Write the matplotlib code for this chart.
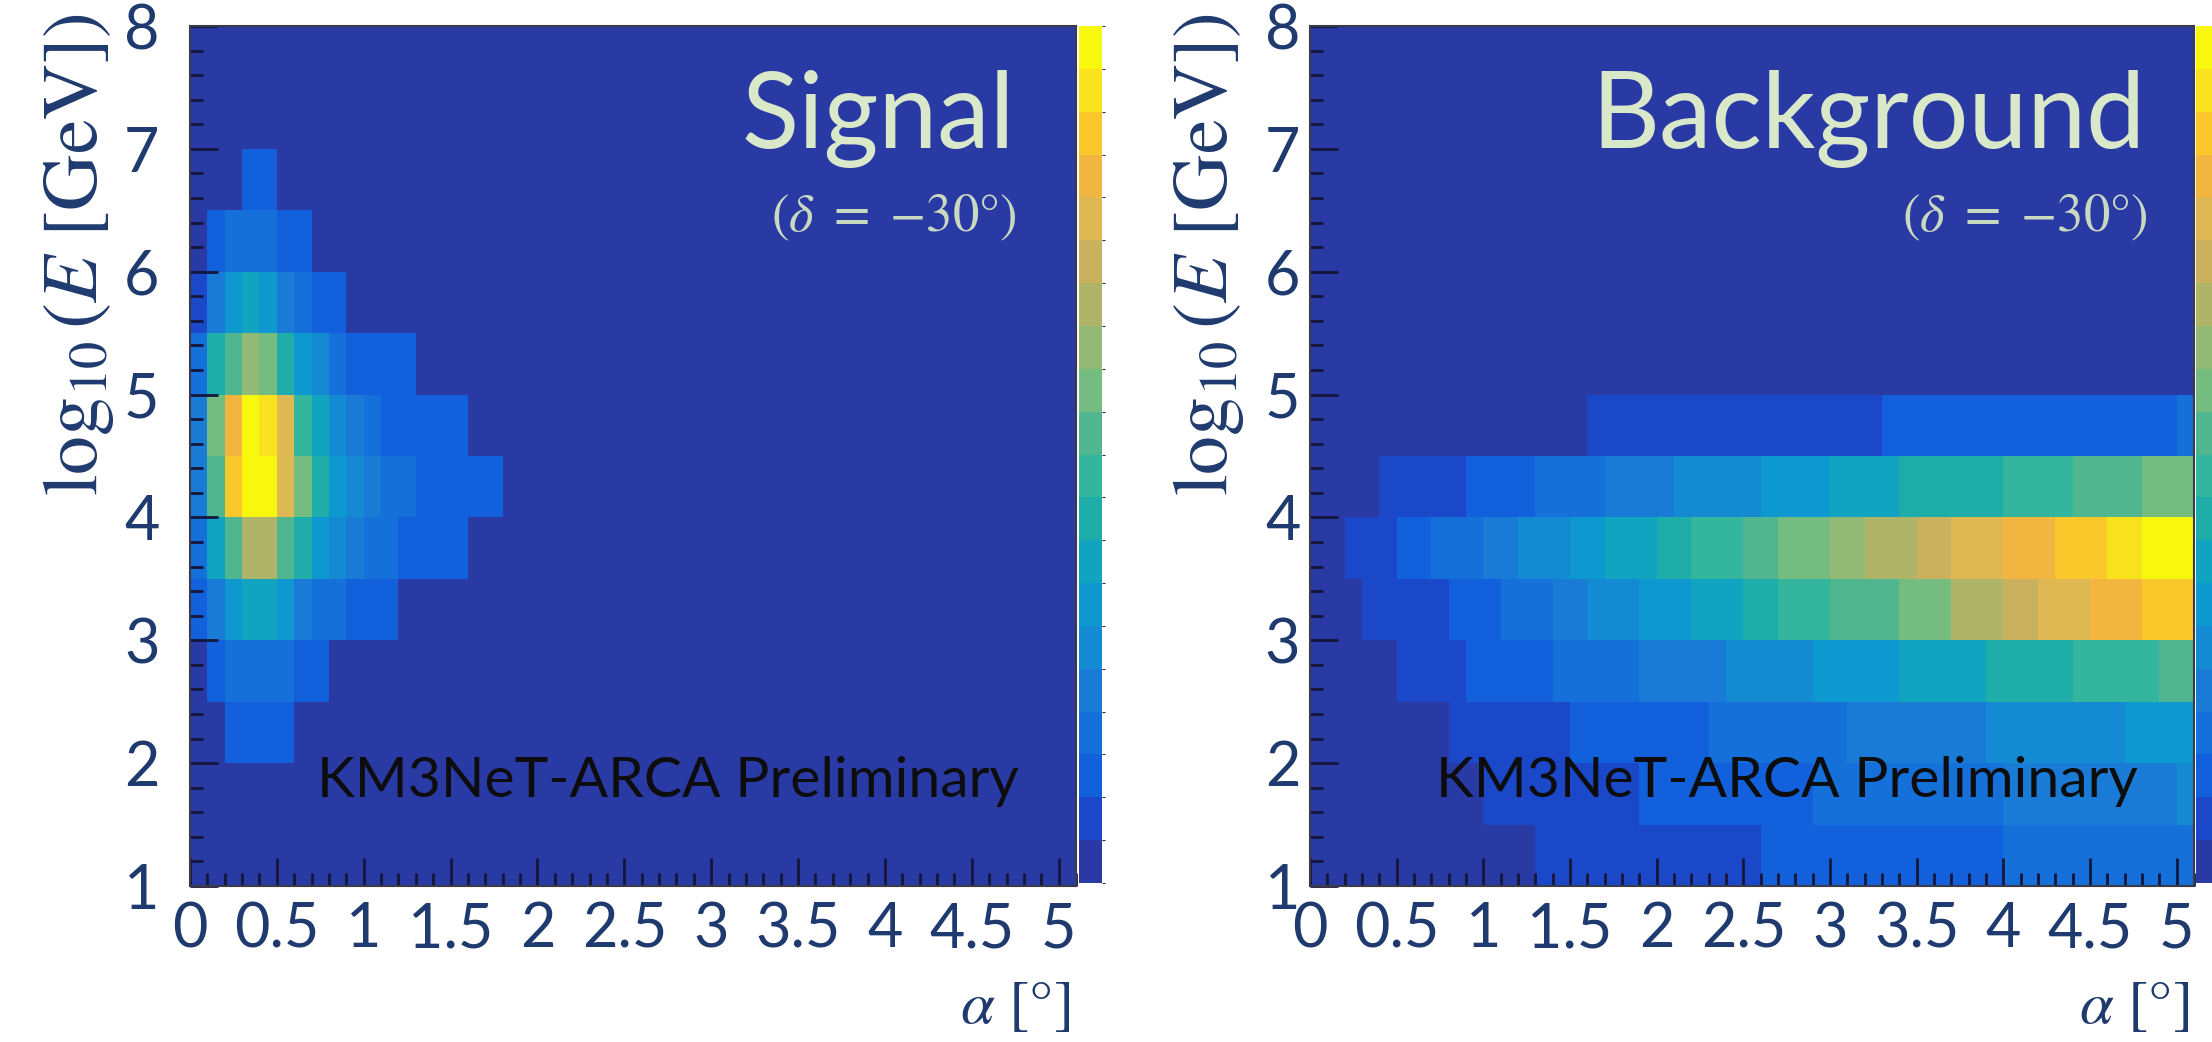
import numpy as np
import matplotlib
matplotlib.use("Agg")
import matplotlib.pyplot as plt
from matplotlib.colors import ListedColormap, BoundaryNorm
from matplotlib.ticker import MultipleLocator

plt.rcParams["font.family"] = ["Lato", "DejaVu Sans"]
plt.rcParams["mathtext.fontset"] = "stix"

W, H = 2212, 1042
NAVY = "#1f3a6e"

# 20-level ROOT palette (level 0 = empty bins / frame colour)
PALETTE = ["#2a3aa5", "#1a48c8", "#1360dc", "#1670da", "#1a7bd6",
           "#148ad2", "#0d98cf", "#10a4c0", "#1fadaa", "#33b59e",
           "#50b68f", "#74bc80", "#92ba74", "#b0b468", "#c9b15e",
           "#deb852", "#f2b640", "#fbc82c", "#f9e11e", "#f8f80e"]

X_EDGES = np.round(np.arange(0, 5.11, 0.1), 1)      # alpha bins [deg]
Y_EDGES = np.arange(1.0, 8.01, 0.5)                  # log10(E) bins

# signal: per log10(E) row (bottom up) -> (first alpha bin, colour level per 0.1 bin)
SIG_ROWS = [
    (0, []),                                                    # 1.0-1.5
    (0, []),                                                    # 1.5-2.0
    (2, [2, 2, 2, 2]),                                          # 2.0-2.5
    (1, [2, 3, 3, 3, 3, 2, 2]),                                 # 2.5-3.0
    (0, [2, 4, 6, 7, 7, 6, 4, 3, 3, 2, 2, 2]),                  # 3.0-3.5
    (0, [3, 7, 10, 13, 13, 10, 8, 6, 5, 4, 3, 3, 2, 2, 2, 2]),  # 3.5-4.0
    (0, [4, 10, 17, 19, 19, 15, 11, 8, 6, 5, 4, 3, 3, 2, 2, 2, 2, 2]),  # 4.0-4.5
    (0, [4, 11, 16, 19, 18, 15, 9, 7, 5, 4, 3, 2, 2, 2, 2, 2]),  # 4.5-5.0
    (0, [3, 8, 10, 12, 11, 8, 6, 5, 3, 2, 2, 2, 2]),            # 5.0-5.5
    (0, [1, 4, 6, 7, 6, 4, 3, 2, 2]),                           # 5.5-6.0
    (1, [2, 3, 3, 3, 2, 2]),                                    # 6.0-6.5
    (3, [2, 2]),                                                # 6.5-7.0
    (0, []),                                                    # 7.0-7.5
    (0, []),                                                    # 7.5-8.0
]

# background: per row -> (run edges in alpha, colour level of each run)
BKG_ROWS = [
    ([0, 1.3, 2.6, 4.0, 5.1], [0, 1, 2, 3]),
    ([0, 1.0, 1.9, 2.9, 4.0, 5.0, 5.1], [0, 1, 2, 3, 4, 5]),
    ([0, 0.8, 1.5, 2.3, 3.1, 3.9, 4.7, 5.1], [0, 1, 2, 3, 4, 5, 6]),
    ([0, 0.5, 0.9, 1.4, 1.9, 2.4, 2.9, 3.4, 3.9, 4.4, 4.9, 5.1],
     [0, 1, 2, 3, 4, 5, 6, 7, 8, 9, 10]),
    ([0, 0.3, 0.8, 1.1, 1.4, 1.6, 1.9, 2.2, 2.5, 2.7, 3.0, 3.4, 3.7, 4.0, 4.2, 4.5, 4.8, 5.1],
     [0, 1, 2, 3, 4, 5, 6, 7, 8, 9, 10, 11, 13, 14, 15, 16, 17]),
    ([0, 0.2, 0.5, 0.7, 1.0, 1.2, 1.5, 1.7, 2.0, 2.2, 2.5, 2.7, 3.0, 3.2, 3.5, 3.7, 4.0, 4.3, 4.6, 4.8, 5.1],
     [0, 1, 2, 3, 4, 5, 6, 7, 8, 9, 10, 11, 12, 13, 14, 15, 16, 17, 18, 19]),
    ([0, 0.4, 0.9, 1.3, 1.7, 2.1, 2.6, 3.0, 3.4, 4.0, 4.4, 4.8, 5.1],
     [0, 1, 2, 3, 4, 5, 6, 7, 8, 9, 10, 11]),
    ([0, 1.6, 3.3, 5.0, 5.1], [0, 1, 2, 3]),
    ([0, 5.1], [0]),
    ([0, 5.1], [0]),
    ([0, 5.1], [0]),
    ([0, 5.1], [0]),
    ([0, 5.1], [0]),
    ([0, 5.1], [0]),
]

X_TICKS = [0, 0.5, 1, 1.5, 2, 2.5, 3, 3.5, 4, 4.5, 5]
X_TICKLABELS = ["0", "0.5", "1", "1.5", "2", "2.5", "3", "3.5", "4", "4.5", "5"]
Y_TICKS = [1, 2, 3, 4, 5, 6, 7, 8]


def sig_grid(rows):
    g = np.zeros((len(rows), len(X_EDGES) - 1))
    for i, (start, lev) in enumerate(rows):
        g[i, start:start + len(lev)] = lev
    return g


def bkg_grid(rows):
    cen = 0.5 * (X_EDGES[:-1] + X_EDGES[1:])
    g = np.zeros((len(rows), len(cen)))
    for i, (edges, lev) in enumerate(rows):
        idx = np.clip(np.searchsorted(edges, cen) - 1, 0, len(lev) - 1)
        g[i] = np.asarray(lev)[idx]
    return g


cmap = ListedColormap(PALETTE)
norm = BoundaryNorm(np.arange(-0.5, 20.5, 1), cmap.N)

fig = plt.figure(figsize=(W / 100, H / 100), dpi=100)


def fx(px):
    return px / W


def fy(py):
    return 1 - py / H


def panel(x0, x1, cbx, grid, title, ttl_right, km_right, ylab_x, alab_right, ypad):
    ax = fig.add_axes([fx(x0), fy(886), fx(x1 - x0), fy(26) - fy(886)])
    ax.set_facecolor(PALETTE[0])
    m = ax.pcolormesh(X_EDGES, Y_EDGES, grid, cmap=cmap, norm=norm,
                      edgecolors="none", linewidth=0, antialiased=False)
    ax.set_xlim(0, 5.1); ax.set_ylim(1, 8)
    ax.set_xticks(X_TICKS); ax.set_xticklabels(X_TICKLABELS)
    ax.set_yticks(Y_TICKS)
    ax.xaxis.set_minor_locator(MultipleLocator(0.1))
    ax.yaxis.set_minor_locator(MultipleLocator(0.2))
    ax.tick_params(which="both", direction="in", color="#14163a", width=2,
                   top=False, right=False)
    ax.tick_params(which="major", length=20, labelsize=44, labelcolor=NAVY)
    ax.tick_params(which="minor", length=9.5)
    ax.tick_params(axis="x", which="major", pad=11)
    ax.tick_params(axis="y", which="major", pad=ypad)
    for s in ax.spines.values():
        s.set_color("#3a3a4a"); s.set_linewidth(1.5)

    cax = fig.add_axes([fx(cbx), fy(883), fx(23), fy(26) - fy(883)])
    cb = fig.colorbar(m, cax=cax, ticks=[])
    cb.outline.set_linewidth(0)

    fig.text(fx(ttl_right), fy(148), title, ha="right", va="baseline",
             fontsize=76, color="#d9e8c9")
    fig.text(fx(ttl_right + 2), fy(218), r"$(\delta\ =\ {-}30°)$", ha="right",
             va="center", fontsize=38, color="#c9d9c0")
    fig.text(fx(km_right), fy(797), "KM3NeT-ARCA Preliminary", ha="right",
             va="baseline", fontsize=41, color="#0d0d0d")
    fig.text(fx(ylab_x), fy(13), r"$\log_{10}(E\ [\mathrm{GeV}])$", rotation=90,
             ha="center", va="top", fontsize=56, color=NAVY)
    fig.text(fx(alab_right), fy(1005), r"$\alpha\ [°]$", ha="right",
             va="center", fontsize=44, color=NAVY)
    return ax


panel(190, 1076, 1079, sig_grid(SIG_ROWS), "Signal", 1015, 1019, 79, 1070, 22)
panel(1310, 2194, 2196, bkg_grid(BKG_ROWS), "Background", 2146, 2138, 1208, 2189, 7)

fig.savefig("out.png", dpi=100)
